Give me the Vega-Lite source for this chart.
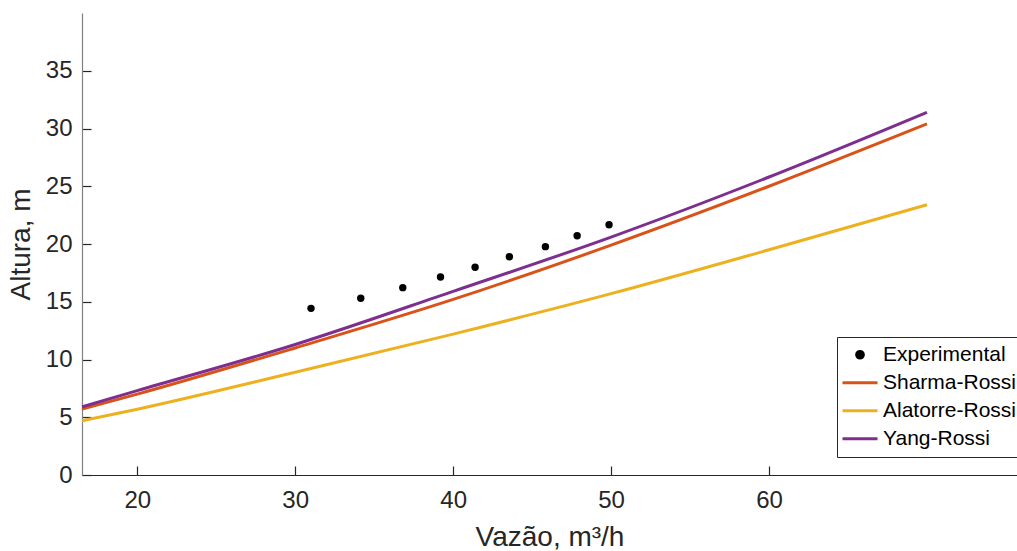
{
  "$schema": "https://vega.github.io/schema/vega-lite/v6.json",
  "width": 935,
  "height": 462,
  "autosize": {"type": "none"},
  "padding": {"left": 82, "top": 13, "right": 0, "bottom": 76},
  "background": "white",
  "config": {
    "view": {"stroke": null},
    "font": "Liberation Sans",
    "axis": {"grid": false, "labelFont": "Liberation Sans", "titleFont": "Liberation Sans", "titleFontWeight": "normal", "labelColor": "#262626", "titleColor": "#262626"}
  },
  "data": {
    "values": [
      {"serie": "Experimental", "vazao": 31.0, "altura": 14.43},
      {"serie": "Experimental", "vazao": 34.15, "altura": 15.3},
      {"serie": "Experimental", "vazao": 36.81, "altura": 16.22},
      {"serie": "Experimental", "vazao": 39.2, "altura": 17.14},
      {"serie": "Experimental", "vazao": 41.39, "altura": 17.98},
      {"serie": "Experimental", "vazao": 43.56, "altura": 18.9},
      {"serie": "Experimental", "vazao": 45.84, "altura": 19.77},
      {"serie": "Experimental", "vazao": 47.85, "altura": 20.72},
      {"serie": "Experimental", "vazao": 49.87, "altura": 21.67},
      {"serie": "Sharma-Rossi", "vazao": 16.5, "altura": 5.7},
      {"serie": "Sharma-Rossi", "vazao": 20, "altura": 7.0},
      {"serie": "Sharma-Rossi", "vazao": 30, "altura": 11.0},
      {"serie": "Sharma-Rossi", "vazao": 40, "altura": 15.2},
      {"serie": "Sharma-Rossi", "vazao": 50, "altura": 19.9},
      {"serie": "Sharma-Rossi", "vazao": 60, "altura": 25.0},
      {"serie": "Sharma-Rossi", "vazao": 70, "altura": 30.4},
      {"serie": "Alatorre-Rossi", "vazao": 16.5, "altura": 4.7},
      {"serie": "Alatorre-Rossi", "vazao": 20, "altura": 5.7},
      {"serie": "Alatorre-Rossi", "vazao": 30, "altura": 8.9},
      {"serie": "Alatorre-Rossi", "vazao": 40, "altura": 12.2},
      {"serie": "Alatorre-Rossi", "vazao": 50, "altura": 15.7},
      {"serie": "Alatorre-Rossi", "vazao": 60, "altura": 19.5},
      {"serie": "Alatorre-Rossi", "vazao": 70, "altura": 23.4},
      {"serie": "Yang-Rossi", "vazao": 16.5, "altura": 5.9},
      {"serie": "Yang-Rossi", "vazao": 20, "altura": 7.3},
      {"serie": "Yang-Rossi", "vazao": 30, "altura": 11.3},
      {"serie": "Yang-Rossi", "vazao": 40, "altura": 15.9},
      {"serie": "Yang-Rossi", "vazao": 50, "altura": 20.6},
      {"serie": "Yang-Rossi", "vazao": 60, "altura": 25.8},
      {"serie": "Yang-Rossi", "vazao": 70, "altura": 31.4}
    ]
  },
  "encoding": {
    "x": {
      "field": "vazao", "type": "quantitative",
      "scale": {"domain": [16.5, 75.7], "nice": false, "zero": false},
      "axis": {"values": [20, 30, 40, 50, 60], "title": "Vazão, m³/h", "domainColor": "#262626", "domainWidth": 1, "tickColor": "#262626", "tickSize": -9, "tickWidth": 1.2, "labelFontSize": 24, "labelPadding": 22, "titleFontSize": 28, "titlePadding": 11}
    },
    "y": {
      "field": "altura", "type": "quantitative",
      "scale": {"domain": [0, 40], "nice": false},
      "axis": {"values": [0, 5, 10, 15, 20, 25, 30, 35], "title": "Altura, m", "domainColor": "#808080", "domainWidth": 1.2, "tickColor": "#262626", "tickSize": -9, "tickWidth": 1.2, "labelFontSize": 24, "labelPadding": 19, "titleFontSize": 28, "titlePadding": 10}
    },
    "color": {
      "field": "serie", "type": "nominal",
      "scale": {"domain": ["Experimental", "Sharma-Rossi", "Alatorre-Rossi", "Yang-Rossi"], "range": ["#000000", "#D95319", "#EDB120", "#7E2F8E"]},
      "legend": {
        "title": null, "orient": "none", "legendX": 755, "legendY": 324, "direction": "vertical",
        "strokeColor": "#262626", "fillColor": "white", "padding": 4,
        "labelFontSize": 21, "labelColor": "#000000", "labelFont": "Liberation Sans", "labelLimit": 400,
        "symbolType": "stroke", "symbolSize": 1225, "symbolStrokeWidth": 3, "labelOffset": 4, "rowPadding": 0, "clipHeight": 27.5,
        "encode": {
          "symbols": {
            "update": {
              "shape": {"signal": "datum.value === 'Experimental' ? 'circle' : 'stroke'"},
              "size": {"signal": "datum.value === 'Experimental' ? 45 : 1225"},
              "fill": {"signal": "datum.value === 'Experimental' ? '#000000' : 'transparent'"},
              "stroke": {"signal": "datum.value === 'Experimental' ? 'transparent' : scale('color', datum.value)"},
              "strokeWidth": {"value": 3},
              "opacity": {"value": 1}
            }
          }
        }
      }
    }
  },
  "layer": [
    {
      "transform": [{"filter": "datum.serie !== 'Experimental'"}],
      "mark": {"type": "line", "strokeWidth": 3, "interpolate": "monotone"}
    },
    {
      "transform": [{"filter": "datum.serie === 'Experimental'"}],
      "mark": {"type": "point", "filled": true, "size": 55, "opacity": 1}
    }
  ]
}
